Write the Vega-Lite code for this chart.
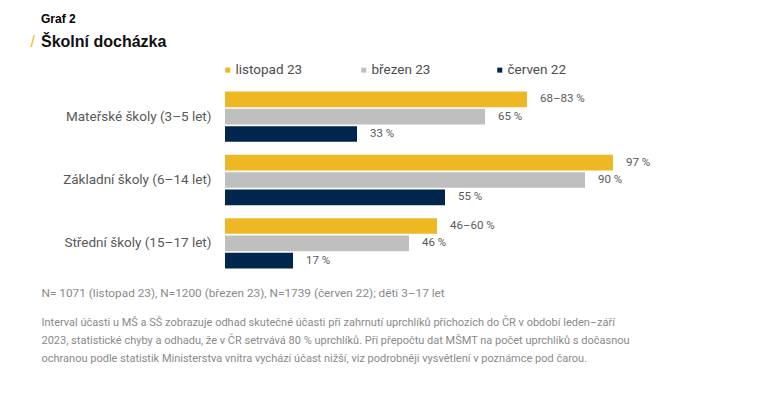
{
  "$schema": "https://vega.github.io/schema/vega-lite/v6.json",
  "width": 400,
  "height": 190,
  "autosize": {"type": "none"},
  "padding": {"left": 225, "top": 85, "right": 143, "bottom": 118},
  "background": "white",
  "config": {"view": {"stroke": null}, "font": "Roboto"},
  "title": {
    "text": "Graf 2",
    "subtitle": "Školní docházka",
    "anchor": "start",
    "frame": "group",
    "dx": -184,
    "font": "Liberation Sans",
    "fontSize": 12,
    "fontWeight": "bold",
    "color": "#000000",
    "subtitleFont": "Liberation Sans",
    "subtitleFontSize": 16,
    "subtitleFontWeight": "bold",
    "subtitleColor": "#111111",
    "subtitlePadding": 8,
    "offset": -18
  },
  "data": {
    "values": [
      {"school": "Mateřské školy (3–5 let)", "period": "listopad 23", "value": 75.5, "label": "68–83 %"},
      {"school": "Mateřské školy (3–5 let)", "period": "březen 23", "value": 65, "label": "65 %"},
      {"school": "Mateřské školy (3–5 let)", "period": "červen 22", "value": 33, "label": "33 %"},
      {"school": "Základní školy (6–14 let)", "period": "listopad 23", "value": 97, "label": "97 %"},
      {"school": "Základní školy (6–14 let)", "period": "březen 23", "value": 90, "label": "90 %"},
      {"school": "Základní školy (6–14 let)", "period": "červen 22", "value": 55, "label": "55 %"},
      {"school": "Střední školy (15–17 let)", "period": "listopad 23", "value": 53, "label": "46–60 %"},
      {"school": "Střední školy (15–17 let)", "period": "březen 23", "value": 46, "label": "46 %"},
      {"school": "Střední školy (15–17 let)", "period": "červen 22", "value": 17, "label": "17 %"}
    ]
  },
  "encoding": {
    "y": {
      "field": "school",
      "type": "nominal",
      "sort": null,
      "scale": {"paddingInner": 0.19, "paddingOuter": 0.095},
      "axis": {
        "domain": false,
        "ticks": false,
        "labelPadding": 14,
        "labelFontSize": 13.5,
        "labelColor": "#595959",
        "labelFont": "Roboto",
        "labelLimit": 300,
        "title": [
          "Interval účasti u MŠ a SŠ zobrazuje odhad skutečné účasti při zahrnutí uprchlíků příchozích do ČR v období leden–září",
          "2023, statistické chyby a odhadu, že v ČR setrvává 80 % uprchlíků. Při přepočtu dat MŠMT na počet uprchlíků s dočasnou",
          "ochranou podle statistik Ministerstva vnitra vychází účast nižší, viz podrobněji vysvětlení v poznámce pod čarou."
        ],
        "titleAngle": 0,
        "titleAlign": "left",
        "titleBaseline": "top",
        "titleX": -184,
        "titleY": 231,
        "titleFontSize": 11,
        "titleFontWeight": "normal",
        "titleColor": "#8a8a8a",
        "titleLineHeight": 18,
        "titleFont": "Roboto"
      }
    },
    "yOffset": {
      "field": "period",
      "type": "nominal",
      "sort": ["listopad 23", "březen 23", "červen 22"],
      "scale": {"paddingInner": 0.1, "paddingOuter": 0.03}
    }
  },
  "layer": [
    {
      "mark": {"type": "bar"},
      "encoding": {
        "x": {
          "field": "value",
          "type": "quantitative",
          "scale": {"domain": [0, 100]},
          "axis": {
            "domain": false,
            "ticks": false,
            "labels": false,
            "grid": false,
            "title": "N= 1071 (listopad 23), N=1200 (březen 23), N=1739 (červen 22); děti 3–17 let",
            "titleAlign": "left",
            "titleBaseline": "top",
            "titleX": -184,
            "titleY": 12,
            "titleFontSize": 11.8,
            "titleFontWeight": "normal",
            "titleColor": "#8a8a8a",
            "titleFont": "Roboto"
          }
        },
        "color": {
          "field": "period",
          "type": "nominal",
          "sort": ["listopad 23", "březen 23", "červen 22"],
          "scale": {
            "domain": ["listopad 23", "březen 23", "červen 22"],
            "range": ["#EDB824", "#BFBFBF", "#00264D"]
          },
          "legend": {
            "title": null,
            "orient": "none",
            "direction": "horizontal",
            "columns": 3,
            "gridAlign": "all",
            "columnPadding": 54,
            "legendX": -4,
            "legendY": -22,
            "symbolType": "square",
            "symbolSize": 25,
            "labelOffset": 1,
            "labelFontSize": 13.5,
            "labelColor": "#4d4d4d",
            "labelFont": "Roboto"
          }
        }
      }
    },
    {
      "mark": {"type": "text", "align": "left", "baseline": "middle", "dx": 13, "fontSize": 11.5, "color": "#595959", "font": "Roboto"},
      "encoding": {
        "x": {
          "field": "value",
          "type": "quantitative",
          "scale": {"domain": [0, 100]},
          "axis": {
            "orient": "top",
            "domain": false,
            "ticks": false,
            "labels": false,
            "grid": false,
            "title": "/",
            "titleAlign": "left",
            "titleBaseline": "middle",
            "titleX": -195,
            "titleY": -44,
            "titleFontSize": 16,
            "titleFontWeight": "normal",
            "titleColor": "#EDB824",
            "titleFont": "Liberation Sans"
          }
        },
        "text": {"field": "label"}
      }
    }
  ],
  "resolve": {"axis": {"x": "independent"}}
}
